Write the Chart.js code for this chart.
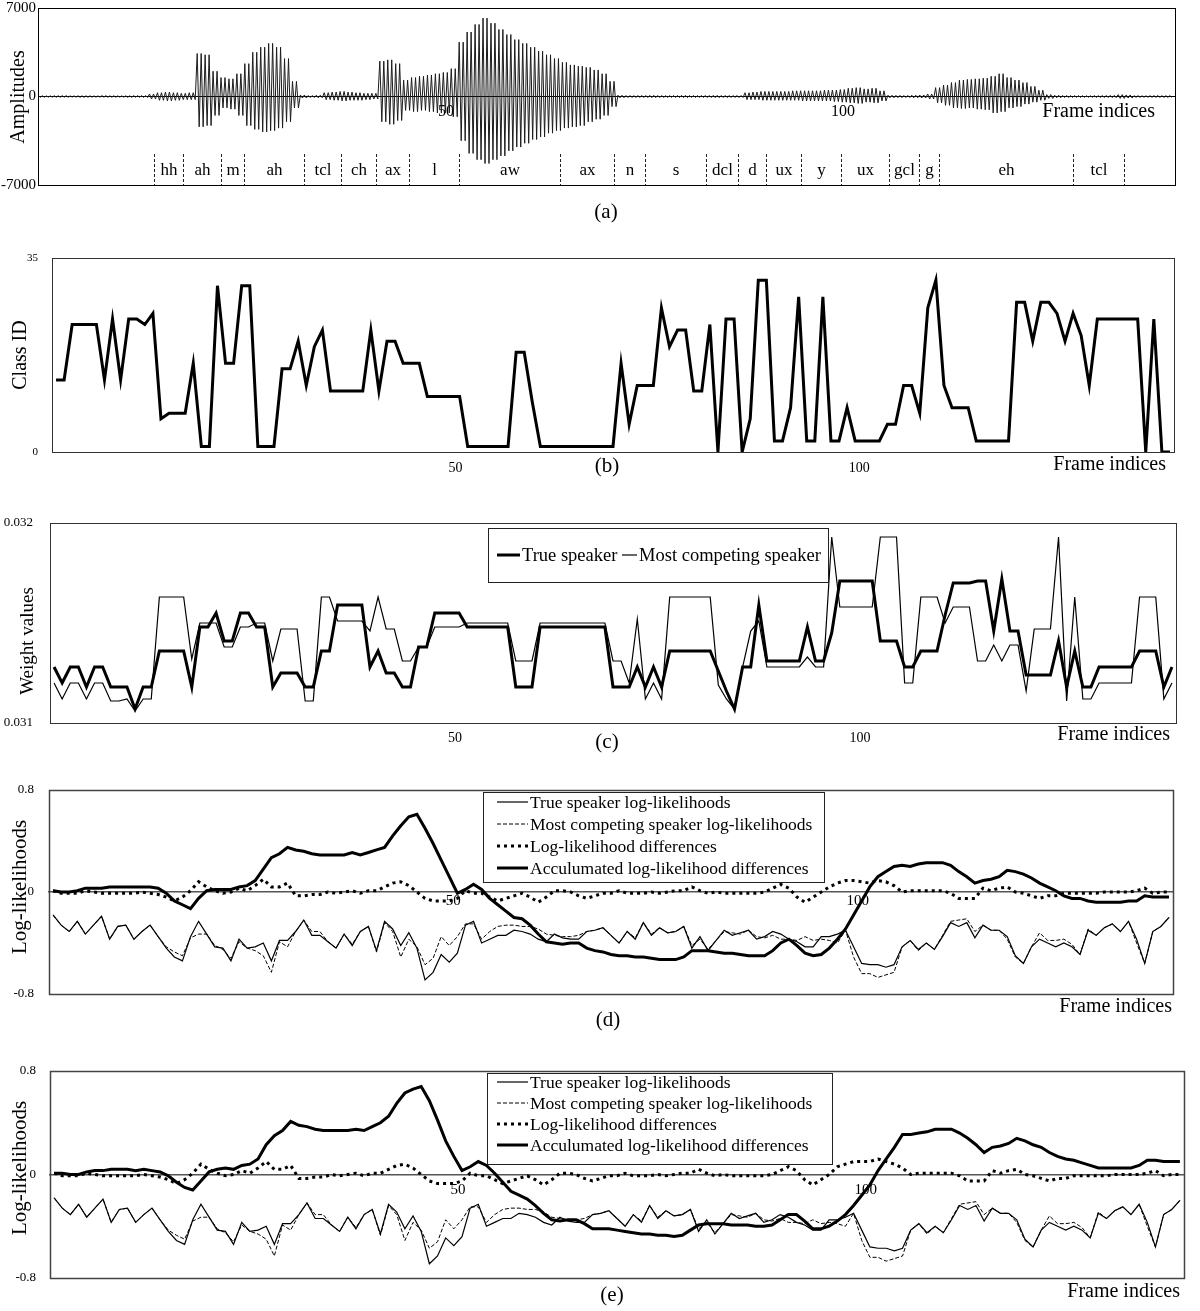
<!DOCTYPE html>
<html>
<head>
  <title>Frame-level speaker scores</title>
  <meta charset="utf-8">
  <script src="https://cdn.jsdelivr.net/npm/chart.js"></script>
  <style>
    body { margin:0; background:#fff; }
    #wrap { position:relative; width:1200px; height:1311px; background:#fff; }
    canvas { position:absolute; left:0; }
  </style>
</head>
<body>
<div id="wrap">
  <canvas id="chA" width="1200" height="225" style="top:0px"></canvas>
  <canvas id="chB" width="1200" height="270" style="top:225px"></canvas>
  <canvas id="chC" width="1200" height="280" style="top:475px"></canvas>
  <canvas id="chD" width="1200" height="280" style="top:755px"></canvas>
  <canvas id="chE" width="1200" height="276" style="top:1035px"></canvas>
</div>
<script>
// ---- data ----
const xTicks = [50, 100];

// (a) phone segmentation, boundaries in frames
const phones = ['hh','ah','m','ah','tcl','ch','ax','l','aw','ax','n','s','dcl','d','ux','y','ux','gcl','g','eh','tcl'];
const phoneBounds = [13.2,16.9,21.7,24.6,32.1,36.7,41.2,45.3,51.6,64.4,71.1,75.0,82.7,86.8,90.3,94.7,99.7,105.8,109.5,112.1,128.9,135.4];

// (a) waveform envelope per frame, frames -1 .. 141
const waveFirstFrame = -1;
const waveUpper = [60,50,60,70,50,60,60,50,70,60,50,60,70,80,
  200,300,350,300,250,300,
  3400,3300,2000,
  1500,1400,1800,
  2600,3500,3900,4200,3900,3000,1200,
  120,80,100,300,350,400,350,300,250,250,
  2800,2900,2600,
  1300,1500,1600,1700,1800,1900,2200,
  4300,5100,5700,6200,5800,5300,4900,4500,4200,3900,3600,3300,3000,2700,2500,2400,2300,2100,1800,1200,
  100,80,70,80,90,80,70,80,90,80,70,80,90,80,70,80,
  300,350,400,400,400,400,450,450,450,450,500,500,550,650,700,600,650,450,
  100,90,80,100,120,200,
  700,900,1100,1300,1350,1400,1450,1600,1800,1500,1300,1100,800,500,
  150,100,80,70,70,60,70,80,90,150,120,70,60,70,80,70];
const waveLower = [-60,-50,-60,-60,-50,-70,-60,-50,-60,-60,-50,-70,-60,-80,
  -200,-300,-350,-300,-250,-250,
  -2400,-2300,-1500,
  -900,-1000,-1500,
  -2300,-2600,-2800,-2700,-2500,-2000,-900,
  -120,-80,-100,-250,-300,-350,-300,-300,-250,-200,
  -2000,-2200,-1900,
  -1100,-1200,-1100,-1200,-1300,-1300,-1600,
  -3500,-4500,-5000,-5300,-5000,-4700,-4300,-4000,-3700,-3400,-3200,-2900,-2700,-2500,-2400,-2300,-2000,-1800,-1500,-800,
  -100,-80,-70,-80,-90,-80,-70,-80,-90,-80,-70,-80,-90,-80,-70,-80,
  -250,-250,-300,-300,-300,-300,-300,-350,-350,-350,-350,-400,-450,-500,-550,-450,-500,-350,
  -100,-90,-80,-100,-120,-200,
  -500,-700,-900,-950,-900,-1000,-1050,-1300,-1200,-900,-800,-600,-450,-300,
  -150,-100,-80,-70,-70,-60,-70,-80,-90,-150,-120,-70,-60,-70,-80,-70];

// (b) class ID per frame (139 frames)
const classIds = [13,13,23,23,23,23,13,24,13,24,
  24,23,25,6,7,7,7,16,1,1,
  30,16,16,30,30,1,1,1,15,15,
  20,12,19,22,11,11,11,11,11,22,
  11,20,20,16,16,16,10,10,10,10,
  10,1,1,1,1,1,1,18,18,9,
  1,1,1,1,1,1,1,1,1,1,
  16,5,12,12,12,26,19,22,22,11,
  11,23,0,24,24,0,6,31,31,2,
  2,8,28,2,2,28,2,2,8,2,
  2,2,2,5,5,12,12,7,26,31,
  12,8,8,8,2,2,2,2,2,27,
  27,20,27,27,25,20,25,21,12,24,
  24,24,24,24,24,0,24,0,0];

// (c) weight values
const weightTrue = [0.03128,0.0312,0.03128,0.03128,0.03118,0.03128,0.03128,0.03118,0.03118,0.03118,
  0.03107,0.03118,0.03118,0.03136,0.03136,0.03136,0.03136,0.03118,0.03148,0.03148,
  0.03155,0.03141,0.03141,0.03155,0.03155,0.03148,0.03148,0.03118,0.03125,0.03125,
  0.03125,0.03118,0.03118,0.03136,0.03136,0.03159,0.03159,0.03159,0.03159,0.03128,
  0.03136,0.03125,0.03125,0.03118,0.03118,0.03138,0.03138,0.03155,0.03155,0.03155,
  0.03155,0.03148,0.03148,0.03148,0.03148,0.03148,0.03148,0.03118,0.03118,0.03118,
  0.03148,0.03148,0.03148,0.03148,0.03148,0.03148,0.03148,0.03148,0.03148,0.03118,
  0.03118,0.03118,0.03128,0.03118,0.03128,0.03118,0.03136,0.03136,0.03136,0.03136,
  0.03136,0.03136,0.03126,0.03116,0.03107,0.03128,0.03128,0.03159,0.03131,0.03131,
  0.03131,0.03131,0.03131,0.03148,0.03131,0.03131,0.03145,0.03171,0.03171,0.03171,
  0.03171,0.03171,0.03141,0.03141,0.03141,0.03128,0.03128,0.03136,0.03136,0.03136,
  0.03154,0.0317,0.0317,0.0317,0.03171,0.03171,0.03146,0.03172,0.03146,0.03146,
  0.03124,0.03124,0.03124,0.03124,0.03141,0.03118,0.03136,0.03118,0.03118,0.03128,
  0.03128,0.03128,0.03128,0.03128,0.03136,0.03136,0.03136,0.03118,0.03128];
const weightComp = [0.0312,0.03112,0.0312,0.0312,0.03112,0.0312,0.0312,0.03111,0.03111,0.03112,
  0.03106,0.03112,0.03112,0.03163,0.03163,0.03163,0.03163,0.03132,0.0315,0.0315,
  0.0315,0.03138,0.03138,0.03148,0.03148,0.0315,0.0315,0.03131,0.03147,0.03147,
  0.03147,0.03111,0.03111,0.03163,0.03163,0.03151,0.03151,0.03151,0.03151,0.03146,
  0.03163,0.03147,0.03147,0.03131,0.03131,0.03138,0.03138,0.03148,0.03148,0.03148,
  0.03148,0.0315,0.0315,0.0315,0.0315,0.0315,0.0315,0.03131,0.03131,0.03131,
  0.0315,0.0315,0.0315,0.0315,0.0315,0.0315,0.0315,0.0315,0.0315,0.03131,
  0.03131,0.0312,0.03152,0.03112,0.0312,0.03112,0.03163,0.03163,0.03163,0.03163,
  0.03163,0.03163,0.03119,0.03112,0.03107,0.03128,0.03146,0.03151,0.03128,0.03128,
  0.03128,0.03128,0.03128,0.03133,0.03128,0.03128,0.03193,0.03158,0.03158,0.03158,
  0.03158,0.03158,0.03193,0.03193,0.03193,0.0312,0.0312,0.03163,0.03163,0.03163,
  0.0315,0.03158,0.03158,0.03158,0.03131,0.03131,0.03139,0.03131,0.03139,0.03139,
  0.03116,0.03147,0.03147,0.03147,0.03193,0.03111,0.03163,0.03112,0.03112,0.0312,
  0.0312,0.0312,0.0312,0.0312,0.03163,0.03163,0.03163,0.03112,0.0312];

// (d) and (e) log-likelihoods
const llTrue = [-0.18,-0.26,-0.31,-0.23,-0.33,-0.26,-0.19,-0.37,-0.27,-0.26,
  -0.37,-0.31,-0.26,-0.35,-0.44,-0.51,-0.54,-0.35,-0.23,-0.33,
  -0.43,-0.44,-0.54,-0.37,-0.44,-0.43,-0.40,-0.54,-0.38,-0.38,
  -0.31,-0.22,-0.34,-0.34,-0.39,-0.44,-0.33,-0.42,-0.31,-0.27,
  -0.46,-0.23,-0.29,-0.42,-0.32,-0.44,-0.69,-0.63,-0.49,-0.55,
  -0.48,-0.26,-0.23,-0.40,-0.37,-0.34,-0.34,-0.30,-0.31,-0.33,
  -0.37,-0.39,-0.33,-0.36,-0.37,-0.37,-0.31,-0.30,-0.28,-0.34,
  -0.40,-0.31,-0.37,-0.24,-0.34,-0.28,-0.32,-0.31,-0.27,-0.44,
  -0.35,-0.46,-0.38,-0.30,-0.34,-0.32,-0.30,-0.37,-0.35,-0.31,
  -0.33,-0.37,-0.39,-0.43,-0.43,-0.35,-0.35,-0.33,-0.30,-0.43,
  -0.56,-0.57,-0.57,-0.59,-0.57,-0.43,-0.38,-0.45,-0.40,-0.45,
  -0.35,-0.24,-0.27,-0.24,-0.36,-0.26,-0.30,-0.30,-0.35,-0.50,
  -0.56,-0.43,-0.37,-0.40,-0.43,-0.40,-0.43,-0.49,-0.30,-0.34,
  -0.28,-0.25,-0.31,-0.23,-0.37,-0.56,-0.31,-0.27,-0.20];
const llComp = [-0.18,-0.26,-0.31,-0.23,-0.33,-0.26,-0.19,-0.37,-0.27,-0.26,
  -0.37,-0.31,-0.26,-0.35,-0.43,-0.47,-0.50,-0.36,-0.33,-0.33,
  -0.42,-0.45,-0.52,-0.39,-0.44,-0.46,-0.50,-0.63,-0.39,-0.43,
  -0.31,-0.22,-0.31,-0.31,-0.39,-0.44,-0.33,-0.41,-0.31,-0.27,
  -0.47,-0.24,-0.31,-0.51,-0.37,-0.43,-0.57,-0.52,-0.35,-0.42,
  -0.35,-0.25,-0.25,-0.37,-0.31,-0.27,-0.26,-0.26,-0.27,-0.27,
  -0.29,-0.33,-0.34,-0.35,-0.35,-0.34,-0.31,-0.30,-0.28,-0.34,
  -0.40,-0.31,-0.36,-0.24,-0.33,-0.28,-0.32,-0.31,-0.27,-0.42,
  -0.37,-0.45,-0.38,-0.31,-0.32,-0.33,-0.30,-0.35,-0.36,-0.34,
  -0.37,-0.37,-0.38,-0.35,-0.38,-0.37,-0.38,-0.40,-0.30,-0.51,
  -0.64,-0.64,-0.67,-0.65,-0.63,-0.43,-0.38,-0.46,-0.40,-0.45,
  -0.34,-0.23,-0.22,-0.21,-0.31,-0.26,-0.30,-0.30,-0.37,-0.51,
  -0.56,-0.43,-0.32,-0.38,-0.38,-0.37,-0.41,-0.49,-0.29,-0.34,
  -0.28,-0.25,-0.31,-0.23,-0.40,-0.56,-0.31,-0.27,-0.20];
const diffD = [0.01,-0.01,-0.01,-0.01,0.01,0,-0.01,-0.01,-0.01,-0.01,
  -0.01,0,-0.01,-0.02,-0.04,-0.07,-0.04,0.01,0.08,0.04,
  0.01,-0.01,0,0.03,0.01,0.05,0.10,0.04,0.04,0.07,
  -0.03,-0.03,-0.02,-0.02,0,-0.01,0,0.01,-0.01,0.01,
  0.01,0.04,0.07,0.08,0.05,0,-0.05,-0.07,-0.07,-0.07,
  -0.05,0.01,-0.01,-0.01,-0.04,-0.07,-0.05,-0.03,-0.01,-0.04,
  -0.08,-0.04,0.01,0.01,0,-0.03,-0.05,-0.03,-0.01,-0.01,
  0.01,-0.01,-0.01,-0.01,0,-0.01,0,0.01,0.01,0.04,
  0.01,-0.01,0,-0.01,-0.01,-0.01,-0.01,-0.01,0,0.03,
  0.06,0.03,-0.04,-0.08,-0.04,0,0.04,0.07,0.09,0.09,
  0.08,0.07,0.09,0.08,0.05,0,0.01,0.01,0.01,0.01,
  0.01,-0.01,-0.05,-0.05,-0.05,0.03,0.01,0.03,0.04,0,
  -0.01,-0.03,-0.05,-0.03,-0.03,-0.01,-0.01,-0.01,-0.01,-0.01,
  0,0,0,0,0.01,0.03,-0.01,0,0];
const accD = [0.01,0,0,0.01,0.03,0.03,0.03,0.04,0.04,0.04,
  0.04,0.04,0.04,0.03,-0.01,-0.07,-0.10,-0.13,-0.05,0.01,
  0.02,0.02,0.02,0.04,0.05,0.09,0.18,0.27,0.30,0.35,
  0.33,0.32,0.30,0.29,0.29,0.29,0.29,0.31,0.29,0.31,
  0.33,0.35,0.44,0.52,0.59,0.61,0.50,0.38,0.25,0.12,
  -0.01,0.02,0.06,0.02,-0.05,-0.10,-0.15,-0.20,-0.21,-0.26,
  -0.33,-0.39,-0.40,-0.41,-0.40,-0.40,-0.44,-0.46,-0.47,-0.49,
  -0.50,-0.50,-0.51,-0.51,-0.52,-0.53,-0.53,-0.53,-0.51,-0.46,
  -0.46,-0.46,-0.47,-0.48,-0.48,-0.49,-0.50,-0.50,-0.50,-0.46,
  -0.40,-0.37,-0.42,-0.48,-0.50,-0.49,-0.44,-0.37,-0.29,-0.18,
  -0.07,0.04,0.12,0.16,0.20,0.21,0.20,0.22,0.23,0.23,
  0.23,0.21,0.16,0.12,0.07,0.09,0.10,0.12,0.17,0.16,
  0.14,0.11,0.07,0.04,0.01,-0.03,-0.05,-0.05,-0.07,-0.08,
  -0.08,-0.08,-0.08,-0.07,-0.07,-0.03,-0.04,-0.04,-0.04];
const diffE = [0.01,-0.01,-0.01,-0.01,0.01,0,-0.01,-0.01,-0.01,-0.01,
  -0.01,0,-0.01,-0.02,-0.04,-0.07,-0.04,0.01,0.08,0.04,
  0.01,-0.01,0,0.03,0.01,0.05,0.10,0.04,0.04,0.07,
  -0.03,-0.03,-0.02,-0.02,0,-0.01,0,0.01,-0.01,0.01,
  0.01,0.04,0.07,0.08,0.05,0,-0.05,-0.07,-0.07,-0.07,
  -0.05,0.01,-0.01,-0.01,-0.04,-0.07,-0.05,-0.03,-0.01,-0.04,
  -0.08,-0.04,0.01,0.01,0,-0.03,-0.05,-0.03,-0.01,-0.01,
  0.01,-0.01,-0.01,-0.01,0,-0.01,0,0.01,0.01,0.04,
  0.01,-0.01,0,-0.01,-0.01,-0.01,-0.01,-0.01,0,0.03,
  0.06,0.03,-0.04,-0.08,-0.04,0,0.06,0.08,0.10,0.10,
  0.10,0.12,0.10,0.08,0.05,0,0.01,0.01,0.01,0.01,
  0.01,-0.01,-0.05,-0.05,-0.05,0.03,0.01,0.03,0.04,0,
  -0.01,-0.03,-0.05,-0.03,-0.03,-0.01,-0.01,-0.01,-0.01,-0.01,
  0,0,0,0,0.01,0.03,-0.01,0,0];
const accE = [0.01,0.01,0,0,0.02,0.03,0.03,0.04,0.04,0.04,
  0.03,0.04,0.03,0.02,-0.01,-0.06,-0.10,-0.12,-0.05,0.02,
  0.04,0.05,0.04,0.07,0.08,0.12,0.23,0.30,0.34,0.41,
  0.38,0.37,0.35,0.34,0.34,0.34,0.34,0.35,0.34,0.37,
  0.40,0.45,0.55,0.63,0.66,0.68,0.57,0.42,0.26,0.14,
  0.03,0.06,0.10,0.07,0.01,-0.06,-0.13,-0.16,-0.19,-0.24,
  -0.30,-0.35,-0.36,-0.35,-0.35,-0.38,-0.42,-0.42,-0.42,-0.43,
  -0.44,-0.45,-0.46,-0.46,-0.47,-0.47,-0.48,-0.47,-0.43,-0.39,
  -0.38,-0.38,-0.38,-0.39,-0.39,-0.39,-0.40,-0.40,-0.39,-0.35,
  -0.31,-0.31,-0.36,-0.42,-0.42,-0.40,-0.36,-0.31,-0.24,-0.16,
  -0.08,0.03,0.12,0.21,0.31,0.31,0.32,0.33,0.35,0.35,
  0.35,0.32,0.28,0.23,0.17,0.21,0.22,0.24,0.28,0.26,
  0.23,0.21,0.17,0.14,0.12,0.11,0.09,0.07,0.05,0.05,
  0.05,0.05,0.05,0.07,0.11,0.11,0.10,0.10,0.10];

[classIds, weightTrue, weightComp, llTrue, llComp, diffD, accD, diffE, accE].forEach((a, k) => {
  if (a.length !== 139) throw new Error('series ' + k + ' has ' + a.length + ' values');
});
if (waveUpper.length !== waveLower.length) throw new Error('wave length mismatch');

// ---- helpers ----
const SERIF = '"Liberation Serif", "Times New Roman", Times, serif';
Chart.defaults.font.family = SERIF;
Chart.defaults.color = '#000';

const pts = arr => arr.map((v, i) => ({ x: i + 0.5, y: v }));
// two swings per frame between the read envelope values
const wavePts = [];
waveUpper.forEach((u, i) => {
  const f = waveFirstFrame + i, lo = waveLower[i];
  wavePts.push({ x: f - 0.35, y: u }, { x: f - 0.1, y: lo }, { x: f + 0.15, y: u }, { x: f + 0.4, y: lo });
});

function yAxis(o) {
  return {
    type: 'linear', min: o.min, max: o.max,
    afterBuildTicks: s => { s.ticks = o.ticks.map(v => ({ value: v })); },
    afterFit: s => { s.width = o.width; s.paddingTop = 0; s.paddingBottom = 0; },
    grid: { display: true, drawOnChartArea: false, drawTicks: false },
    border: { display: false },
    ticks: { padding: o.pad, font: { size: o.size }, color: '#000', callback: o.fmt }
  };
}
function xAxis(o) {
  return {
    type: 'linear', min: o.min, max: o.max, position: o.atZero ? { y: 0 } : 'bottom',
    afterBuildTicks: s => { s.ticks = xTicks.map(v => ({ value: v })); },
    afterFit: s => { s.height = o.height || 0; s.paddingLeft = 0; s.paddingRight = 0; },
    grid: { display: true, drawOnChartArea: false, drawTicks: false },
    border: { display: !!o.atZero, color: o.axisColor || '#000', width: o.axisWidth || 1 },
    ticks: { padding: o.pad, font: { size: o.size }, color: '#000', maxRotation: 0, autoSkip: false,
             callback: v => String(v) }
  };
}
const line = (label, data, width, extra) => Object.assign({
  label, data, borderColor: '#000', borderWidth: width, pointRadius: 0, fill: false, tension: 0
}, extra || {});

// per-panel decorations (frame, titles, captions, legend, phone marks)
const panelCfg = {};
const extras = {
  id: 'extras',
  afterDatasetsDraw(chart) {
    const o = panelCfg[chart.canvas.id];
    if (!o) return;
    const { ctx, chartArea: a, scales } = chart;
    ctx.save();
    if (o.phones) {
      const xs = phoneBounds.map(b => Math.round(scales.x.getPixelForValue(b)) + 0.5);
      ctx.strokeStyle = '#222'; ctx.lineWidth = 1; ctx.setLineDash([3, 2]);
      xs.forEach(x => { ctx.beginPath(); ctx.moveTo(x, o.phones.top); ctx.lineTo(x, a.bottom); ctx.stroke(); });
      ctx.setLineDash([]);
      ctx.font = o.phones.size + 'px ' + SERIF; ctx.fillStyle = '#000';
      ctx.textAlign = 'center'; ctx.textBaseline = 'middle';
      phones.forEach((t, i) => ctx.fillText(t, (xs[i] + xs[i + 1]) / 2, o.phones.textY));
    }
    if (o.legend) {
      const L = o.legend;
      ctx.fillStyle = '#fff'; ctx.fillRect(L.box[0], L.box[1], L.box[2], L.box[3]);
      ctx.strokeStyle = '#222'; ctx.lineWidth = 1;
      ctx.strokeRect(L.box[0] + 0.5, L.box[1] + 0.5, L.box[2], L.box[3]);
      ctx.font = L.size + 'px ' + SERIF; ctx.fillStyle = '#000';
      ctx.textAlign = 'left'; ctx.textBaseline = 'middle';
      L.items.forEach(it => {
        const ds = chart.data.datasets[it.ds];
        const len = it.len || L.lineLen;
        ctx.save();
        ctx.strokeStyle = ds.borderColor; ctx.lineWidth = ds.borderWidth;
        ctx.setLineDash(ds.borderDash || []); ctx.lineCap = ds.borderCapStyle || 'butt';
        ctx.beginPath(); ctx.moveTo(it.x, it.y); ctx.lineTo(it.x + len, it.y); ctx.stroke();
        ctx.restore();
        ctx.fillText(ds.label, it.x + len + 2, it.y + 1);
      });
    }
    ctx.strokeStyle = o.frameColor || '#000'; ctx.lineWidth = o.frameWidth || 1;
    ctx.strokeRect(Math.round(a.left) + 0.5, Math.round(a.top) + 0.5,
                   Math.round(a.right - a.left), Math.round(a.bottom - a.top));
    ctx.fillStyle = '#000'; ctx.textBaseline = 'middle';
    const t = o.yTitle;
    ctx.save(); ctx.translate(t.x, t.y); ctx.rotate(-Math.PI / 2);
    ctx.font = t.size + 'px ' + SERIF; ctx.textAlign = 'center'; ctx.fillText(t.text, 0, 0);
    ctx.restore();
    ctx.font = o.xName.size + 'px ' + SERIF; ctx.textAlign = 'right';
    ctx.fillText('Frame indices', o.xName.x, o.xName.y);
    ctx.font = '21px ' + SERIF; ctx.textAlign = 'center';
    ctx.fillText(o.caption.text, o.caption.x, o.caption.y);
    ctx.restore();
  }
};

function makeChart(id, datasets, pad, xOpt, yOpt) {
  return new Chart(document.getElementById(id), {
    type: 'line',
    data: { datasets },
    options: {
      responsive: false, animation: false, devicePixelRatio: 1,
      layout: { padding: { left: 0, top: pad.top, right: pad.right, bottom: pad.bottom } },
      plugins: { legend: { display: false }, tooltip: { enabled: false } },
      elements: { point: { radius: 0 } },
      scales: { x: xAxis(xOpt), y: yAxis(yOpt) }
    },
    plugins: [extras]
  });
}

const fmtInt = v => String(v);
const fmtLL = v => (v === 0 ? '0' : v.toFixed(1));

// ---- (a) waveform ----
panelCfg.chA = {
  frameWidth: 1, frameColor: '#000',
  yTitle: { text: 'Amplitudes', x: 19, y: 97, size: 20 },
  xName: { x: 1155, y: 112, size: 20 },
  caption: { text: '(a)', x: 606, y: 212 },
  phones: { top: 154, textY: 171, size: 17 }
};
makeChart('chA',
  [line('Amplitudes', wavePts, 1, { borderColor: '#1c1c1c', borderJoinStyle: 'miter' })],
  { top: 8, right: 25, bottom: 40 },
  { min: -1.4, max: 141.8, atZero: true, pad: 6, size: 16, axisColor: '#000', axisWidth: 1 },
  { min: -7000, max: 7000, ticks: [-7000, 0, 7000], width: 38, pad: 2, size: 15, fmt: fmtInt });

// ---- (b) class IDs ----
panelCfg.chB = {
  frameWidth: 1, frameColor: '#333',
  yTitle: { text: 'Class ID', x: 21, y: 130, size: 20 },
  xName: { x: 1166, y: 240, size: 20 },
  caption: { text: '(b)', x: 607, y: 241 }
};
makeChart('chB',
  [line('Class ID', pts(classIds), 3)],
  { top: 33, right: 26, bottom: 0 },
  { min: 0, max: 139, pad: 8, size: 14, height: 43 },
  { min: 0, max: 35, ticks: [0, 35], width: 52, pad: 14, size: 11, fmt: fmtInt });

// ---- (c) weights ----
panelCfg.chC = {
  frameWidth: 1, frameColor: '#333',
  yTitle: { text: 'Weight values', x: 28, y: 166, size: 19 },
  xName: { x: 1170, y: 260, size: 20 },
  caption: { text: '(c)', x: 607, y: 267 },
  legend: { box: [488, 53, 340, 54], size: 18.5, lineLen: 23,
            items: [{ ds: 0, x: 497, y: 80 }, { ds: 1, x: 622, y: 80, len: 15 }] }
};
makeChart('chC',
  [line('True speaker', pts(weightTrue), 3),
   line('Most competing speaker', pts(weightComp), 1.2)],
  { top: 48, right: 24, bottom: 0 },
  { min: 0, max: 139, pad: 7, size: 14, height: 32 },
  { min: 0.031, max: 0.032, ticks: [0.031, 0.032], width: 50, pad: 17, size: 13, fmt: v => v.toFixed(3) });

// ---- (d) and (e) log-likelihoods ----
function llSets(diff, acc) {
  return [
    line('True speaker log-likelihoods', pts(llTrue), 1.2),
    line('Most competing speaker log-likelihoods', pts(llComp), 1, { borderDash: [4, 2] }),
    line('Log-likelihood differences', pts(diff), 3, { borderDash: [3, 4] }),
    line('Acculumated log-likelihood differences', pts(acc), 3)
  ];
}
panelCfg.chD = {
  frameWidth: 1.5, frameColor: '#444',
  yTitle: { text: 'Log-likelihoods', x: 20, y: 132, size: 21 },
  xName: { x: 1172, y: 252, size: 20 },
  caption: { text: '(d)', x: 608, y: 265 },
  legend: { box: [483, 37, 341, 90], size: 17.5, lineLen: 31,
            items: [{ ds: 0, x: 497, y: 47 }, { ds: 1, x: 497, y: 69 }, { ds: 2, x: 497, y: 91 }, { ds: 3, x: 497, y: 113 }] }
};
makeChart('chD', llSets(diffD, accD),
  { top: 35, right: 27, bottom: 41 },
  { min: 0, max: 139, atZero: true, pad: 0, size: 15, axisColor: '#555', axisWidth: 1.5 },
  { min: -0.8, max: 0.8, ticks: [-0.8, 0, 0.8], width: 49, pad: 15, size: 13, fmt: fmtLL });

panelCfg.chE = {
  frameWidth: 1.5, frameColor: '#444',
  yTitle: { text: 'Log-likelihoods', x: 20, y: 133, size: 21 },
  xName: { x: 1180, y: 257, size: 20 },
  caption: { text: '(e)', x: 612, y: 260 },
  legend: { box: [487, 38, 345, 91], size: 17.5, lineLen: 31,
            items: [{ ds: 0, x: 497, y: 47 }, { ds: 1, x: 497, y: 68 }, { ds: 2, x: 497, y: 89 }, { ds: 3, x: 497, y: 110 }] }
};
makeChart('chE', llSets(diffE, accE),
  { top: 36, right: 16, bottom: 33 },
  { min: 0, max: 139, atZero: true, pad: 7, size: 15, axisColor: '#555', axisWidth: 1.5 },
  { min: -0.8, max: 0.8, ticks: [-0.8, 0, 0.8], width: 50, pad: 14, size: 13, fmt: fmtLL });
</script>
</body>
</html>
